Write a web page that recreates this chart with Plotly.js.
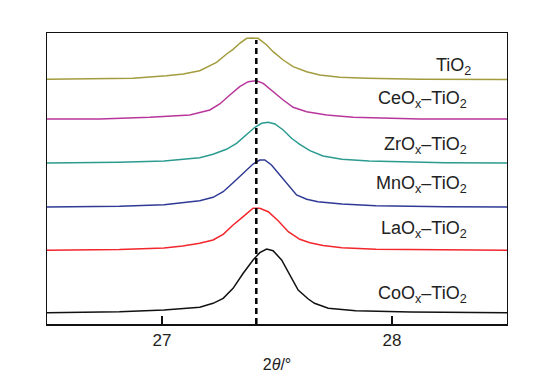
<!DOCTYPE html>
<html>
<head>
<meta charset="utf-8">
<script src="https://cdn.plot.ly/plotly-3.0.1.min.js"></script>
<style>html,body{margin:0;padding:0;background:#fff;}#chart{width:536px;height:383px;}</style>
</head>
<body>
<div id="chart"></div>
<script>
// Series names (top to bottom) and colours
const names = ["TiO<sub>2</sub>", "CeO<sub>x</sub>–TiO<sub>2</sub>", "ZrO<sub>x</sub>–TiO<sub>2</sub>", "MnO<sub>x</sub>–TiO<sub>2</sub>", "LaO<sub>x</sub>–TiO<sub>2</sub>", "CoO<sub>x</sub>–TiO<sub>2</sub>"];
const colors = ["#a39c3e", "#b8369c", "#2b9b90", "#2f3a95", "#f2262c", "#111111"];
// vertical offsets of each stacked pattern (a.u.)
const offsets = [244.6, 205, 161, 117, 73.7, 11.3];

// 2θ (deg) and intensity (a.u., above own baseline) for each pattern
const xTi = [26.5, 26.729, 26.874, 27.019, 27.092, 27.164, 27.208, 27.237, 27.281, 27.309, 27.338, 27.368, 27.394, 27.418, 27.455, 27.483, 27.527, 27.570, 27.629, 27.686, 27.773, 27.890, 28.121, 28.5];
const yTi = [0.2, 1.1, 1.1, 3.7, 5.4, 8.7, 13.4, 17.1, 25.4, 30.1, 36.1, 41.1, 41.3, 41.1, 34.4, 27.7, 19.4, 12.7, 7.7, 4.4, 2.1, 1.1, 0.1, 0];

const xCe = [26.5, 26.729, 26.947, 27.121, 27.208, 27.251, 27.295, 27.338, 27.375, 27.411, 27.440, 27.483, 27.527, 27.570, 27.629, 27.716, 27.831, 28.121, 28.5];
const yCe = [0, 0, 1.7, 4, 9, 15, 24, 32.3, 37.3, 38.3, 35.7, 27.3, 19, 11.7, 7.3, 4, 1.7, 0, 0];

const xZr = [26.5, 26.815, 27.009, 27.11, 27.164, 27.222, 27.280, 27.324, 27.368, 27.404, 27.433, 27.462, 27.491, 27.527, 27.563, 27.599, 27.643, 27.70, 27.782, 27.90, 28.23, 28.5];
const yZr = [0, 0.7, 2.0, 3.9, 5.3, 8.7, 13.7, 19.7, 29, 35.7, 39.7, 40.7, 39, 33, 24.7, 18.7, 12.3, 7.0, 3.7, 2.0, 0.3, 0];

const xMn = [26.5, 26.815, 27.009, 27.09, 27.164, 27.222, 27.266, 27.309, 27.353, 27.396, 27.425, 27.447, 27.476, 27.512, 27.549, 27.585, 27.629, 27.678, 27.782, 27.93, 28.23, 28.5];
const yMn = [0, 0.7, 2.3, 4.3, 6.3, 9.7, 15.3, 24.3, 33.7, 43, 47, 47, 42, 32, 22, 12, 7.7, 5.3, 3, 1.3, 0.3, 0];

const xLa = [26.5, 26.815, 27.009, 27.09, 27.164, 27.222, 27.266, 27.309, 27.353, 27.396, 27.425, 27.462, 27.505, 27.549, 27.599, 27.643, 27.70, 27.782, 27.93, 28.23, 28.5];
const yLa = [0, 0.7, 2.3, 4.3, 7, 10.3, 16, 25.3, 33.6, 42, 42, 38.6, 29.6, 18.6, 11, 7.6, 4.8, 2.6, 1, 0.3, 0];

const xCo = [26.5, 26.815, 27.009, 27.09, 27.164, 27.222, 27.266, 27.309, 27.353, 27.396, 27.425, 27.455, 27.483, 27.520, 27.556, 27.592, 27.636, 27.663, 27.723, 27.842, 28.08, 28.5];
const yCo = [0, 1, 2.7, 3.8, 5.4, 9.4, 14.4, 24.4, 39.4, 52.7, 60, 63.7, 62, 52.7, 37.7, 22.7, 13.7, 9.4, 4.4, 2, 0.7, 0];

// reference peak position (dashed line) and label positions
const refPeak = 27.41;
const labelX = [28.352, 28.335, 28.335, 28.335, 28.335, 28.335];
const labelY = [258, 225, 178.3, 140, 95, 30];

const xs = [xTi, xCe, xZr, xMn, xLa, xCo];
const ys = [yTi, yCe, yZr, yMn, yLa, yCo];

const traces = xs.map((x, i) => ({
  type: "scatter", mode: "lines", x: x,
  y: ys[i].map(v => v + offsets[i]),
  line: {color: colors[i], width: 1.5, shape: "linear"},
  hoverinfo: "skip", showlegend: false
}));

const annotations = names.map((n, i) => ({
  x: labelX[i], y: labelY[i], xref: "x", yref: "y", text: n, showarrow: false,
  xanchor: "right", yanchor: "middle",
  font: {family: "Liberation Sans, Arial, sans-serif", size: 18, color: "#222"}
}));

const layout = {
  width: 536, height: 383,
  margin: {l: 47, r: 29, t: 33, b: 59},
  paper_bgcolor: "#fff", plot_bgcolor: "#fff",
  font: {family: "Liberation Sans, Arial, sans-serif", color: "#222"},
  xaxis: {
    range: [26.5, 28.5], tickmode: "array", tickvals: [27, 28], ticktext: ["27", "28"],
    ticks: "inside", ticklen: 8, tickwidth: 1.5, tickcolor: "#111",
    showline: true, linecolor: "#111", linewidth: 1.5, mirror: true,
    showgrid: false, zeroline: false,
    tickfont: {size: 17, color: "#222"},
    minor: {tickmode: "array", tickvals: [26.5, 28.5], ticks: "inside", ticklen: 4, tickcolor: "#111", tickwidth: 1.5, showgrid: false},
    title: {text: "2<i>θ</i>/°", font: {size: 16, color: "#222"}, standoff: 10}
  },
  yaxis: {
    range: [0, 291], showticklabels: false, ticks: "", showgrid: false, zeroline: false,
    showline: true, linecolor: "#111", linewidth: 1.2, mirror: true
  },
  shapes: [{
    type: "line", xref: "x", yref: "y", x0: refPeak, x1: refPeak, y0: 0, y1: 284,
    line: {color: "#000", width: 2.5, dash: "6px,4px"}
  }],
  annotations: annotations
};

Plotly.newPlot("chart", traces, layout, {staticPlot: true, displayModeBar: false});
</script>
</body>
</html>
